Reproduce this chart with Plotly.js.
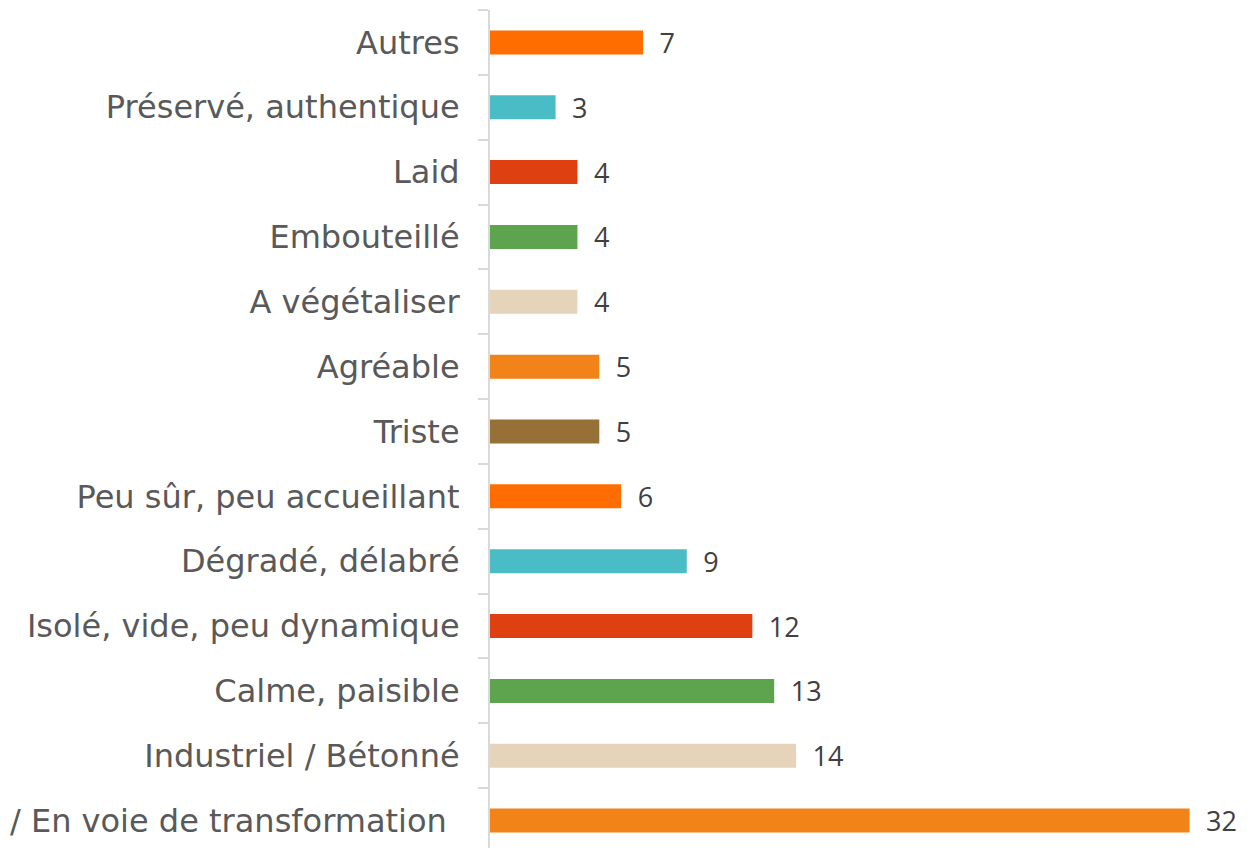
<!DOCTYPE html>
<html>
<head>
<meta charset="utf-8">
<script src="https://cdn.plot.ly/plotly-3.0.1.min.js"></script>
<style>
html, body { margin: 0; padding: 0; overflow: hidden; background: #fff; }
#chart { width: 1258px; height: 860px; }
</style>
</head>
<body>
<div id="chart"></div>
<script>
// Categories listed top to bottom as in the reference
var categories = [
  "Autres",
  "Préservé, authentique",
  "Laid",
  "Embouteillé",
  "A végétaliser",
  "Agréable",
  "Triste",
  "Peu sûr, peu accueillant",
  "Dégradé, délabré",
  "Isolé, vide, peu dynamique",
  "Calme, paisible",
  "Industriel / Bétonné",
  "/ En voie de transformation\u2009\u2009"
];
var values = [7, 3, 4, 4, 4, 5, 5, 6, 9, 12, 13, 14, 32];
var barColors = [
  "#FF6D00", "#4ABCC6", "#DF4011", "#5EA34E", "#E5D4BA", "#F28318", "#977038",
  "#FF6D00", "#4ABCC6", "#DF4011", "#5EA34E", "#E5D4BA", "#F28318"
];

var trace = {
  type: "bar",
  orientation: "h",
  y: categories,
  x: values,
  marker: { color: barColors },
  text: values.map(function (v) { return "\u2002" + v; }),
  textposition: "outside",
  constraintext: "none",
  cliponaxis: false,
  textfont: { family: "Open Sans", size: 27, color: "#404040" },
  hoverinfo: "none"
};

var layout = {
  width: 1258,
  height: 860,
  margin: { l: 490, r: 0, t: 10, b: 7, autoexpand: false },
  paper_bgcolor: "#ffffff",
  plot_bgcolor: "#ffffff",
  showlegend: false,
  bargap: 0.63,
  xaxis: {
    visible: false,
    range: [0, 35.13],
    fixedrange: true
  },
  yaxis: {
    type: "category",
    autorange: "reversed",
    automargin: false,
    showline: true,
    linecolor: "#d9d9d9",
    linewidth: 2,
    ticks: "outside",
    tickson: "boundaries",
    ticklen: 10,
    tickwidth: 2,
    tickcolor: "#d9d9d9",
    ticklabelstandoff: 22,
    showgrid: false,
    zeroline: false,
    tickfont: { family: "DejaVu Sans", size: 32, color: "#595959" }
  }
};

Plotly.newPlot("chart", [trace], layout, { staticPlot: true, displayModeBar: false });
</script>
</body>
</html>
